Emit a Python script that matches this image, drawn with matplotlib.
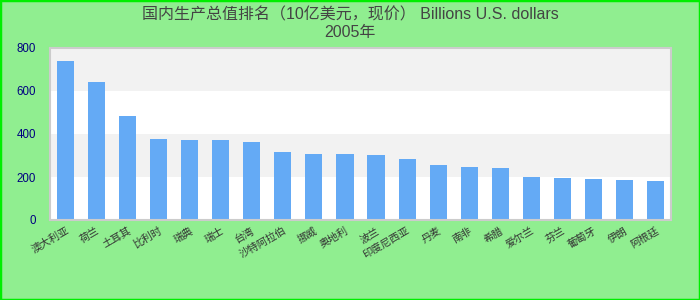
import matplotlib
matplotlib.use("Agg")
import matplotlib.pyplot as plt
from matplotlib.patches import Rectangle

plt.rcParams['font.family'] = ['Liberation Sans', 'Noto Sans CJK SC', 'DejaVu Sans']

countries = ["澳大利亚", "荷兰", "土耳其", "比利时", "瑞典", "瑞士", "台湾", "沙特阿拉伯",
             "挪威", "奥地利", "波兰", "印度尼西亚", "丹麦", "南非", "希腊", "爱尔兰",
             "芬兰", "葡萄牙", "伊朗", "阿根廷"]
gdp = [740, 642, 485, 378, 374, 373, 364, 318, 305, 305, 303, 285, 258, 248, 243,
       201, 197, 193, 188, 182]
yticks = [0, 200, 400, 600, 800]
title = "国内生产总值排名（10亿美元，现价） Billions U.S. dollars\n2005年"

fig = plt.figure(figsize=(7, 3), dpi=100)
fig.patch.set_facecolor('#90ee90')
ax = fig.add_axes([50/700, 80/300, 621/700, 172/300])
ax.set_facecolor('white')

for lo in (200, 600):
    ax.axhspan(lo, lo + 200, color='#f2f2f2', zorder=0, lw=0)

x = list(range(len(countries)))
ax.bar(x, gdp, width=0.55, color='#64aaf5', zorder=2)

ax.set_xlim(-0.5, len(countries) - 0.5)
ax.set_ylim(0, 800)
ax.set_yticks(yticks)
ax.set_yticklabels([str(v) for v in yticks], color='#000080', fontsize=8.3)
ax.set_xticks(x)
ax.set_xticklabels(countries, rotation=30, ha='right', rotation_mode='anchor',
                   fontsize=7.5, color='#333333')
ax.tick_params(axis='both', length=0, pad=4)
ax.tick_params(axis='y', pad=10)
for s in ax.spines.values():
    s.set_color('#cccccc')
    s.set_linewidth(1.5)

fig.text(0.5, 0.975, title, ha='center', va='top', fontsize=11.5, color='#444444',
         linespacing=1.2)

fig.patches.append(Rectangle((0, 0), 1, 1, transform=fig.transFigure, fill=False,
                             edgecolor='#00ee00', linewidth=2.5, zorder=10))

fig.savefig('out.png', dpi=100, facecolor=fig.get_facecolor())
